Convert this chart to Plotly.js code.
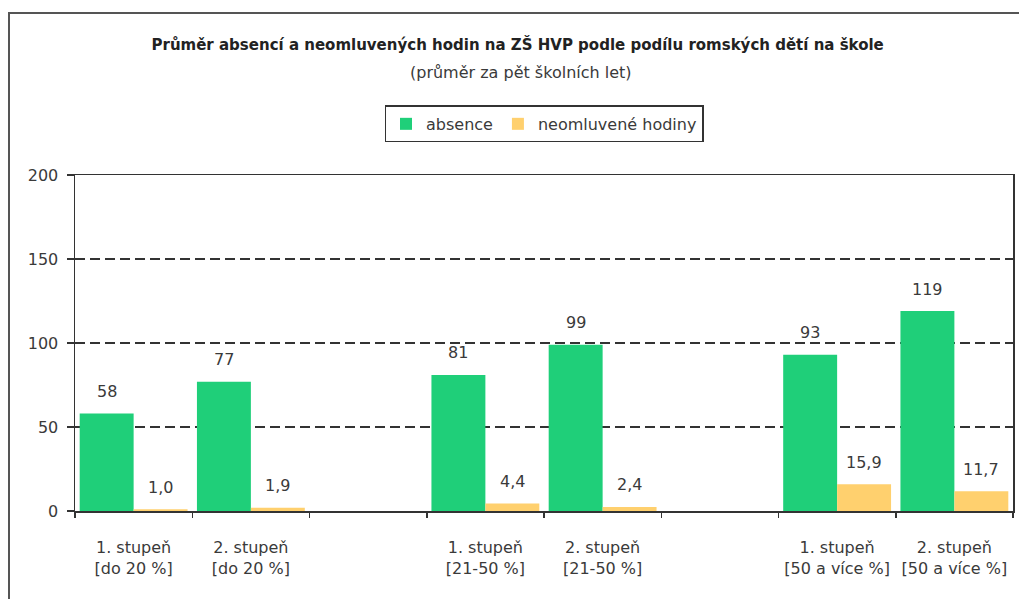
<!DOCTYPE html>
<html>
<head>
<meta charset="utf-8">
<script src="https://cdn.plot.ly/plotly-3.0.1.min.js"></script>
<style>
  html, body { margin: 0; padding: 0; background: #fff; }
  #chart { width: 1019px; height: 599px; }
  #frame { position: absolute; left: 8px; top: 12px; width: 1011px; height: 587px;
           border-left: 2px solid #555; border-top: 2px solid #555; pointer-events: none; box-sizing: border-box; }
</style>
</head>
<body>
<div id="chart"></div>
<div id="frame"></div>
<script>
// ---- data ----
const groups = ['do 20 %', '21-50 %', '50 a více %'];
const levels = ['1. stupeň', '2. stupeň'];
const absence = [58, 77, 81, 99, 93, 119];
const neomluvene = [1.0, 1.9, 4.4, 2.4, 15.9, 11.7];
const seriesNames = ['absence', 'neomluvené hodiny'];
const yTicks = [0, 50, 100, 150, 200];

// build category axis (with empty gap slots between groups)
const cats = [], absY = [], neoY = [];
let k = 0;
groups.forEach((g, gi) => {
  levels.forEach(l => {
    cats.push(l + '<br>[' + g + ']');
    absY.push(absence[k]);
    neoY.push(neomluvene[k]);
    k++;
  });
  if (gi < groups.length - 1) {
    cats.push('\u200b'.repeat(gi + 1));
    absY.push(null);
    neoY.push(null);
  }
});

const font = 'DejaVu Sans, Verdana, sans-serif';
const txtColor = '#3a3a3a';
const green = '#1fcf79';
const yellow = '#ffd06e';

const traces = [
  { type: 'bar', name: seriesNames[0], x: cats, y: absY,
    marker: { color: green, line: { width: 0 } }, hoverinfo: 'x+y' },
  { type: 'bar', name: seriesNames[1], x: cats, y: neoY,
    marker: { color: yellow, line: { width: 0 } }, hoverinfo: 'x+y' }
];

const annotations = [];
cats.forEach((c, i) => {
  if (absY[i] === null) return;
  annotations.push({ x: c, y: absY[i], xref: 'x', yref: 'y', text: String(absY[i]),
    showarrow: false, xshift: -27, yshift: 22, yanchor: 'middle',
    font: { family: font, size: 16, color: txtColor } });
  annotations.push({ x: c, y: neoY[i], xref: 'x', yref: 'y', text: neoY[i].toFixed(1).replace('.', ','),
    showarrow: false, xshift: 27, yshift: 22, yanchor: 'middle',
    font: { family: font, size: 16, color: txtColor } });
});
annotations.push({ xref: 'paper', yref: 'paper', x: 0.4755, y: 1.3065, xanchor: 'center', yanchor: 'middle',
  text: '(průměr za pět školních let)', showarrow: false,
  font: { family: font, size: 16, color: txtColor } });

const layout = {
  width: 1019, height: 599,
  margin: { l: 75, r: 6, t: 175, b: 88 },
  paper_bgcolor: '#fff', plot_bgcolor: '#fff',
  separators: ', ',
  title: { text: '<b>Průměr absencí a neomluvených hodin na ZŠ HVP podle podílu romských dětí na škole</b>',
    xref: 'container', yref: 'container', x: 0.508, y: 1 - 45 / 599, xanchor: 'center', yanchor: 'middle',
    font: { family: font, size: 15, color: '#222' } },
  barmode: 'group', bargap: 0.08, bargroupgap: 0,
  showlegend: true,
  legend: { orientation: 'h', x: 0.5, xanchor: 'center', y: 1.152, yanchor: 'middle',
    bordercolor: '#333', borderwidth: 1.5, bgcolor: '#fff',
    font: { family: font, size: 16, color: txtColor }, traceorder: 'normal' },
  xaxis: { type: 'category', categoryorder: 'array', categoryarray: cats,
    showline: true, linecolor: '#333', linewidth: 1.5, mirror: true,
    ticks: 'outside', tickson: 'boundaries', ticklen: 5, tickcolor: '#333', tickwidth: 1.5,
    ticklabelstandoff: 21,
    showgrid: false, zeroline: false,
    tickfont: { family: font, size: 16, color: txtColor } },
  yaxis: { range: [0, 200], tickvals: yTicks, ticks: 'outside', ticklen: 7, tickcolor: '#333', tickwidth: 1.5,
    ticklabelstandoff: 5,
    showline: true, linecolor: '#333', linewidth: 1.5, mirror: true,
    showgrid: true, gridcolor: '#333', gridwidth: 1.5, griddash: '10px,5px',
    zeroline: false, tickfont: { family: font, size: 16, color: txtColor } },
  annotations: annotations
};

Plotly.newPlot('chart', traces, layout, { displayModeBar: false, staticPlot: true }).then(gd => {
  // drop the invisible labels of the empty spacer categories
  gd.querySelectorAll('.xtick text').forEach(t => {
    if (t.textContent.replace(/[\u200b\s]/g, '') === '') t.remove();
  });
});
</script>
</body>
</html>
